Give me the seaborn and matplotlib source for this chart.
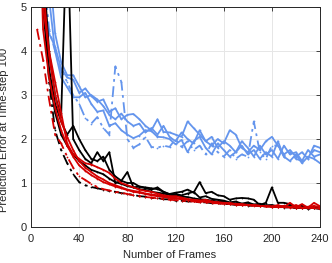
import numpy as np
import pandas as pd
import matplotlib
matplotlib.use("Agg")
import matplotlib.pyplot as plt
import seaborn as sns

frames = list(range(5, 241, 5))

blue_a = [9, 5.0, 4.4, 4.1, 3.6, 3.4, 3.35, 3.05, 3.15, 2.98, 2.85, 2.9, 2.62, 2.7, 2.45, 2.55,
          2.57, 2.45, 2.3, 2.2, 2.45, 2.16, 2.15, 2.1, 2.05, 2.4, 2.25, 2.1, 1.95, 1.85, 2.0, 1.9,
          2.2, 2.1, 1.8, 1.7, 1.85, 1.75, 1.95, 2.05, 1.85, 1.65, 1.75, 1.6, 1.7, 1.55, 1.85, 1.8]
blue_b = [9, 7, 5.2, 4.0, 3.4, 3.18, 2.95, 2.95, 3.05, 2.8, 2.62, 2.65, 2.3, 2.36, 2.2, 2.1,
          2.02, 2.08, 2.2, 2.18, 2.05, 2.04, 2.0, 1.88, 1.98, 1.7, 1.95, 2.05, 1.8, 1.65, 1.9, 1.75,
          1.6, 1.7, 1.85, 1.65, 1.75, 1.55, 1.7, 1.6, 1.95, 1.6, 1.5, 1.65, 1.45, 1.6, 1.55, 1.45]
blue_c = [9, 8, 6, 4.4, 3.75, 3.45, 3.45, 3.2, 2.95, 3.0, 2.9, 2.75, 2.55, 2.45, 2.58, 2.4,
          2.3, 2.35, 2.15, 2.25, 2.1, 2.3, 2.05, 1.95, 2.15, 2.0, 1.9, 2.2, 1.95, 2.05, 1.8, 1.95,
          1.85, 1.7, 1.95, 1.8, 1.6, 1.85, 1.65, 1.75, 1.55, 1.85, 1.65, 1.7, 1.5, 1.75, 1.6, 1.65]
blue_d = [9, 6, 4.5, 4.0, 3.55, 3.3, 3.0, 2.8, 2.48, 2.35, 2.5, 2.25, 2.1, 3.65, 3.3, 2.0,
          1.8, 1.88, 2.05, 1.82, 1.8, 1.85, 1.82, 2.0, 1.82, 1.95, 1.75, 1.85, 1.65, 1.9, 1.7, 1.6,
          1.75, 1.55, 1.65, 1.6, 2.4, 1.7, 1.55, 1.85, 1.85, 1.6, 1.7, 1.55, 1.5, 1.55, 1.75, 1.7]

black_e = [9, 6, 4.0, 3.0, 2.5, 7.0, 2.0, 1.75, 1.55, 1.45, 1.7, 1.5, 1.7, 1.0, 1.05, 1.25,
           0.9, 0.92, 0.88, 0.85, 0.9, 0.8, 0.75, 0.78, 0.8, 0.85, 0.78, 1.02, 0.77, 0.8, 0.72, 0.7,
           0.62, 0.65, 0.66, 0.65, 0.62, 0.5, 0.55, 0.9, 0.55, 0.55, 0.52, 0.45, 0.48, 0.43, 0.44, 0.45]
black_f = [9, 5.5, 3.6, 2.8, 2.4, 2.1, 2.3, 2.0, 1.75, 1.55, 1.5, 1.6, 1.3, 1.15, 1.05, 1.0,
           1.0, 0.92, 0.9, 0.88, 0.86, 0.8, 0.74, 0.75, 0.72, 0.76, 0.8, 0.67, 0.7, 0.64, 0.62, 0.6,
           0.56, 0.58, 0.53, 0.56, 0.51, 0.53, 0.49, 0.5, 0.47, 0.46, 0.48, 0.44, 0.45, 0.42, 0.46, 0.43]
black_g = [9, 5.0, 3.4, 2.6, 2.1, 1.85, 1.65, 1.5, 1.4, 1.3, 1.25, 1.2, 1.1, 1.02, 0.98, 0.93,
           0.9, 0.86, 0.84, 0.8, 0.78, 0.76, 0.73, 0.72, 0.69, 0.68, 0.65, 0.63, 0.62, 0.6, 0.58, 0.57,
           0.55, 0.54, 0.53, 0.52, 0.51, 0.49, 0.49, 0.48, 0.47, 0.46, 0.45, 0.44, 0.44, 0.43, 0.43, 0.42]
black_h = [9, 5.5, 3.3, 2.2, 1.75, 1.45, 1.2, 1.02, 0.95, 0.91, 0.88, 0.85, 0.82, 0.8, 0.77, 0.75,
           0.73, 0.7, 0.69, 0.66, 0.66, 0.63, 0.63, 0.6, 0.6, 0.58, 0.58, 0.56, 0.56, 0.54, 0.54, 0.52,
           0.52, 0.5, 0.5, 0.48, 0.49, 0.47, 0.47, 0.45, 0.46, 0.44, 0.45, 0.43, 0.44, 0.42, 0.43, 0.41]

red_i = [4.5, 3.8, 2.9, 2.1, 1.9, 1.6, 1.35, 1.15, 1.07, 0.98, 0.91, 0.86, 0.83, 0.8, 0.78, 0.75,
         0.72, 0.7, 0.68, 0.67, 0.65, 0.64, 0.62, 0.61, 0.6, 0.58, 0.58, 0.56, 0.56, 0.54, 0.54, 0.52,
         0.52, 0.5, 0.5, 0.49, 0.48, 0.48, 0.47, 0.46, 0.46, 0.45, 0.45, 0.44, 0.44, 0.43, 0.43, 0.42]
red_j = [9, 5.0, 4.0, 3.3, 2.6, 1.9, 1.65, 1.55, 1.45, 1.42, 1.36, 1.3, 1.23, 1.1, 1.0, 0.95,
         0.9, 0.85, 0.82, 0.8, 0.76, 0.72, 0.7, 0.7, 0.67, 0.63, 0.62, 0.6, 0.62, 0.58, 0.56, 0.55,
         0.54, 0.52, 0.52, 0.5, 0.5, 0.48, 0.47, 0.47, 0.46, 0.48, 0.45, 0.5, 0.44, 0.46, 0.48, 0.45]
red_k = [9, 4.5, 3.4, 2.7, 2.2, 1.85, 1.6, 1.4, 1.28, 1.18, 1.1, 1.02, 0.97, 0.92, 0.88, 0.84,
         0.8, 0.78, 0.75, 0.72, 0.7, 0.68, 0.66, 0.65, 0.63, 0.62, 0.6, 0.58, 0.57, 0.56, 0.55, 0.54,
         0.52, 0.51, 0.5, 0.5, 0.49, 0.48, 0.47, 0.46, 0.5, 0.45, 0.55, 0.45, 0.52, 0.44, 0.55, 0.47]
red_l = [9, 5.5, 3.9, 3.0, 2.4, 2.05, 1.75, 1.5, 1.35, 1.25, 1.15, 1.08, 1.0, 0.95, 0.9, 0.85,
         0.82, 0.8, 0.76, 0.74, 0.72, 0.7, 0.68, 0.66, 0.64, 0.63, 0.6, 0.6, 0.58, 0.57, 0.56, 0.54,
         0.54, 0.52, 0.51, 0.5, 0.49, 0.48, 0.47, 0.46, 0.45, 0.46, 0.44, 0.44, 0.43, 0.45, 0.43, 0.42]

series = [
    ("blue_a", blue_a, "blue", "solid"),
    ("blue_b", blue_b, "blue", "solid"),
    ("blue_c", blue_c, "blue", "solid"),
    ("blue_d", blue_d, "blue", "dashdot"),
    ("black_e", black_e, "black", "solid"),
    ("black_f", black_f, "black", "solid"),
    ("black_g", black_g, "black", "solid"),
    ("black_h", black_h, "black", "dashdot"),
    ("red_i", red_i, "red", "dashdot"),
    ("red_j", red_j, "red", "solid"),
    ("red_k", red_k, "red", "solid"),
    ("red_l", red_l, "red", "solid"),
]

colors = {"blue": "#6495ed", "black": "#000000", "red": "#d40000"}
dashdot = (6, 2.5, 1.5, 2.5)

sns.set_theme(style="whitegrid")
plt.rcParams['font.family'] = ['Liberation Sans', 'DejaVu Sans']

fig = plt.figure(figsize=(3.32, 2.63), dpi=100)
ax = fig.add_axes([0.0934, 0.137, 0.8706, 0.836])

for name, vals, col, sty in series:
    df = pd.DataFrame({"frame": frames, "err": vals})
    sns.lineplot(data=df, x="frame", y="err", ax=ax, color=colors[col],
                 linewidth=1.3, marker=".", markersize=2.5, markeredgewidth=0,
                 estimator=None)
    if sty == "dashdot":
        ax.lines[-1].set_dashes(dashdot)

ax.set_xlim(0, 240)
ax.set_ylim(0, 5)
ax.set_xticks([0, 40, 80, 120, 160, 200, 240])
ax.set_yticks([0, 1, 2, 3, 4, 5])
ax.set_xlabel("Number of Frames", fontsize=8, color="#262626")
ax.set_ylabel("Prediction Error at Time-step 100", fontsize=8, color="#262626")
ax.xaxis.set_label_coords(0.48, -0.105)
ax.yaxis.set_label_coords(-0.075, 0.44)
ax.tick_params(axis="both", which="both", direction="in", length=3, width=0.6,
               labelsize=8, colors="#262626", top=True, right=True)
ax.tick_params(axis="x", pad=5)
ax.tick_params(axis="y", pad=3)
ax.grid(True, color="#e6e6e6", linewidth=0.7)
ax.set_facecolor("white")
for s in ax.spines.values():
    s.set_visible(True)
    s.set_color("#262626")
    s.set_linewidth(0.7)

fig.savefig("out.png", dpi=100, facecolor="white")
